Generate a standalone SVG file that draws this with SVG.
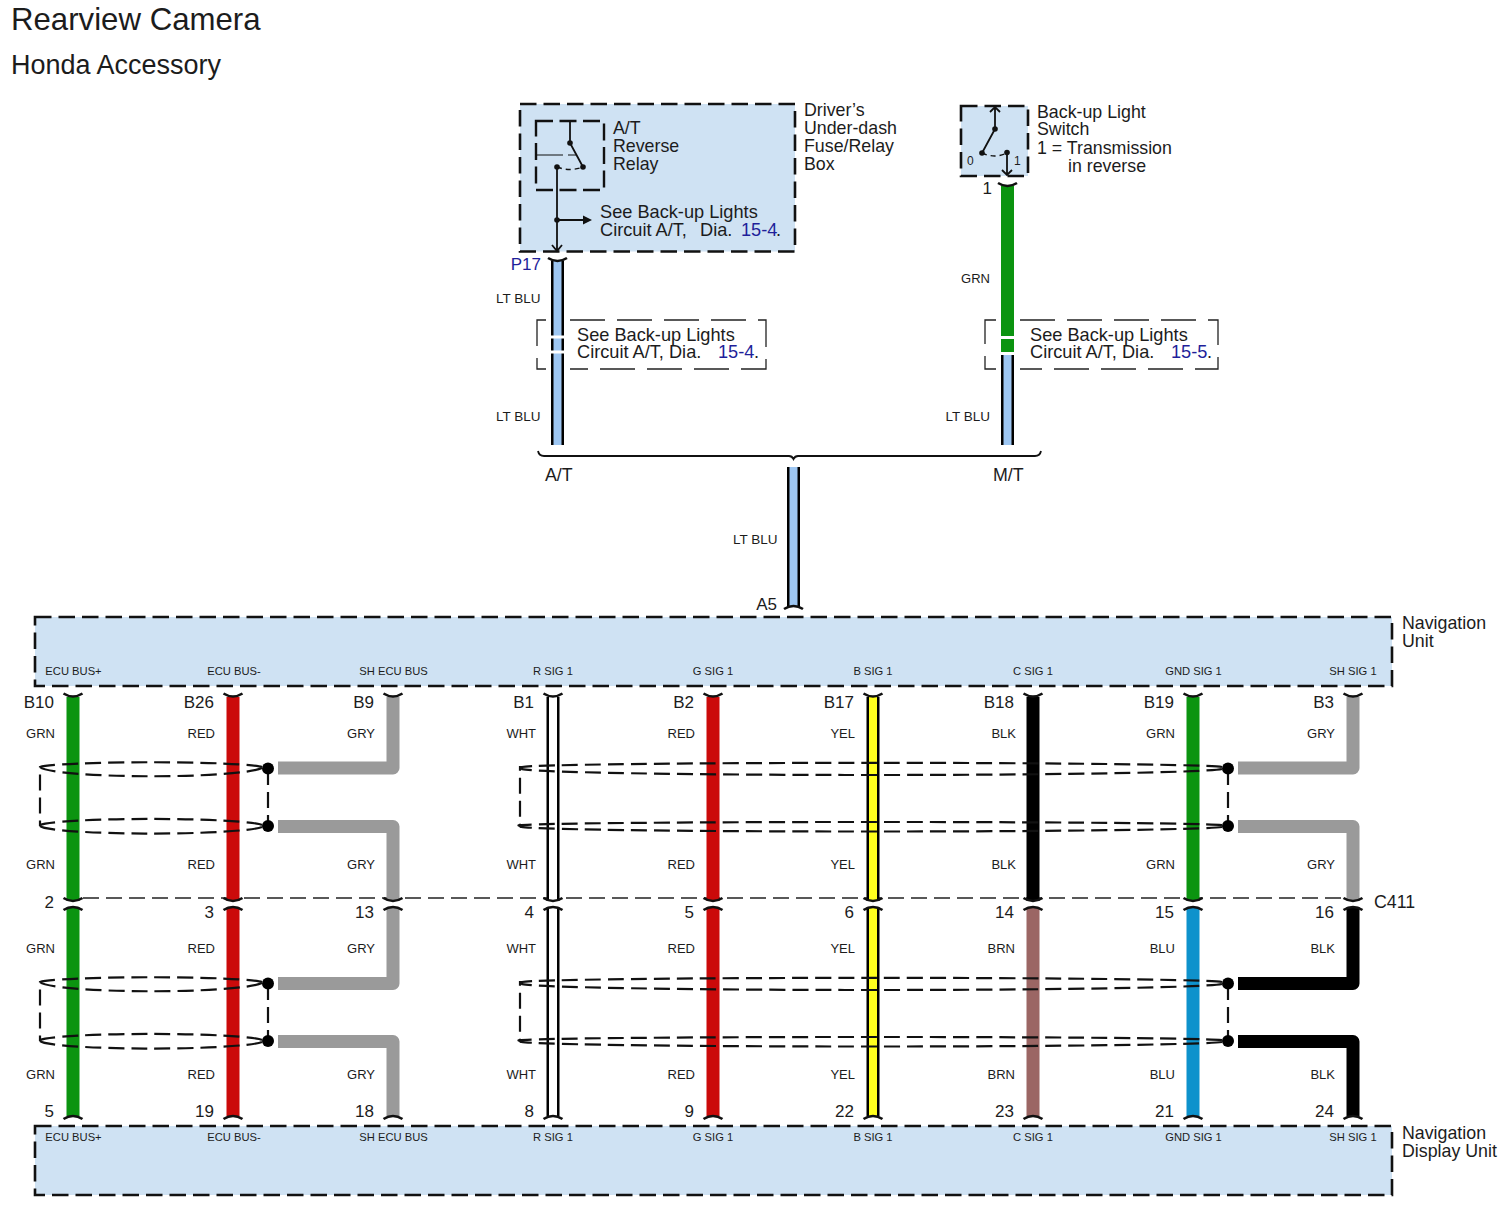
<svg xmlns="http://www.w3.org/2000/svg" width="1510" height="1207" viewBox="0 0 1510 1207">
<style>
text{font-family:"Liberation Sans",Arial,sans-serif;fill:#1c1c1c}
.t{font-size:17.8px}
.s{font-size:18.2px}
.p{font-size:17px;text-anchor:end}
.w{font-size:13px;text-anchor:end}
.lb{font-size:13.500px;text-anchor:end}
.n{font-size:11.200px;text-anchor:middle}
.l{fill:#1f1f9a}
.box{fill:#cfe2f3;stroke:#111;stroke-width:2.600;stroke-dasharray:16.500 7}
.thin{fill:none;stroke:#222;stroke-width:1.300;stroke-dasharray:35 12}
.ln{fill:none;stroke:#111;stroke-width:1.800}
.dsh{fill:none;stroke:#111;stroke-width:1.400;stroke-dasharray:5 4}
.tick{fill:none;stroke:#111;stroke-width:2.600}
.wire{fill:none;stroke-width:13;stroke-linejoin:round}
.grn{stroke:#0b9410}.red{stroke:#cb0a0a}.gry{stroke:#9a9a9a}.yel{stroke:#ffff1e}.blk{stroke:#000}.brn{stroke:#9b6664}.blu{stroke:#0e92cc}.wht{stroke:#fff}.lbl{stroke:#9dc6f2}
.in{fill:none;stroke-width:8}
.shield{fill:none;stroke:#111;stroke-width:2.200;stroke-dasharray:16 7}
</style>
<defs>
<path id="tt" class="tick" d="M-9.500 0Q0 6 9.500 0"/>
<path id="tb" class="tick" d="M-9.500 0Q0 -6 9.500 0"/>
<g id="sl">
<path class="shield" d="M262 767A112 5.500 0 0 0 40 767V826"/>
<path class="shield" d="M262 768A112 10 0 0 1 40 767"/>
<path class="shield" d="M262 825A112 7 0 0 0 40 825"/>
<path class="shield" d="M262 827A112 8 0 0 1 40 826"/>
<path class="shield" d="M268 769V826"/>
<circle cx="268" cy="768.500" r="6" fill="#000"/><circle cx="268" cy="826" r="6" fill="#000"/>
</g>
<g id="sr">
<path class="shield" d="M1222 767A351 4.500 0 0 0 522 767H520V826"/>
<path class="shield" d="M1222 769A351 6.500 0 0 1 522 768"/>
<path class="shield" d="M1222 825A351 3.500 0 0 0 522 826"/>
<path class="shield" d="M1222 827A351 5 0 0 1 522 826"/>
<path class="shield" d="M1228 769V826"/>
<circle cx="1228" cy="768.500" r="6" fill="#000"/><circle cx="1228" cy="826" r="6" fill="#000"/>
</g>
</defs>
<rect width="1510" height="1207" fill="#fff"/>
<text x="11" y="30" font-size="31.200">Rearview Camera</text>
<text x="11" y="74" font-size="27">Honda Accessory</text>

<g id="fuse-box">
<rect class="box" x="520" y="104" width="275" height="147.500"/>
<text class="t" x="804" y="116">Driver’s</text>
<text class="t" x="804" y="134">Under-dash</text>
<text class="t" x="804" y="152">Fuse/Relay</text>
<text class="t" x="804" y="170">Box</text>
<text class="s" x="600" y="218">See Back-up Lights</text>
<text class="s" x="600" y="236">Circuit A/T,</text><text class="s" x="700" y="236">Dia.</text>
<text class="s l" x="741" y="236">15-4</text><text class="s" x="776" y="236">.</text>
<path class="ln" d="M557 167V251M552 245L557 251L562 245M557 220H585"/>
<path d="M583 215.500L592 220L583 224.500Z" fill="#111"/>
<circle cx="557" cy="220" r="2.800" fill="#111"/>
</g>
<g id="relay">
<rect x="536" y="121" width="68" height="69" fill="none" stroke="#111" stroke-width="2.400" stroke-dasharray="17 6.500"/>
<text class="t" x="613" y="134">A/T</text>
<text class="t" x="613" y="152">Reverse</text>
<text class="t" x="613" y="170">Relay</text>
<path class="ln" d="M570 121V143L583 167"/>
<path d="M536 155H563M568 155H577" fill="none" stroke="#111" stroke-width="1.200"/>
<path class="dsh" d="M557 167Q570 172 583 167"/>
<circle cx="570" cy="143" r="2.800" fill="#111"/><circle cx="583" cy="167" r="2.800" fill="#111"/><circle cx="557" cy="167" r="2.800" fill="#111"/>
</g>
<g id="backup-switch">
<rect class="box" x="961" y="106" width="67" height="70"/>
<path class="ln" d="M995 107V129L982 153M990 112L995 107L1000 112M1007 153V175M1002 170L1007 175L1012 170"/>
<path class="dsh" d="M982 153Q995 159 1007 153"/>
<circle cx="995" cy="129" r="2.800" fill="#111"/><circle cx="982" cy="153" r="2.800" fill="#111"/><circle cx="1007" cy="152.500" r="2.800" fill="#111"/>
<text x="967" y="165" font-size="12">0</text><text x="1014" y="165" font-size="12">1</text>
<text class="t" x="1037" y="118">Back-up Light</text>
<text class="t" x="1037" y="135">Switch</text>
<text class="t" x="1037" y="154">1 = Transmission</text>
<text class="t" x="1068" y="172">in reverse</text>
</g>

<g id="connectors">
<path class="wire blk" d="M557.500 261V445"/><path class="in lbl" d="M557.500 261V445"/>
<path class="wire grn" d="M1007.500 186V336"/><path class="wire grn" d="M1007.500 339V352"/>
<path class="wire blk" d="M1007.500 355V445"/><path class="in lbl" d="M1007.500 355V445"/>
<path d="M550 337H565M550 352H565" stroke="#fff" stroke-width="3"/>
<path class="wire blk" d="M793.500 467V607"/><path class="in lbl" d="M793.500 467V607"/>
<path class="ln" d="M538 451Q539 456 544 456H789Q792 456 793.500 459Q795 456 798 456H1035Q1040 456 1041 451"/>
<use href="#tt" x="557.500" y="258"/><use href="#tt" x="1007.500" y="183"/><use href="#tb" x="793.500" y="609"/>

<path d="M83 898H1345" fill="none" stroke="#222" stroke-width="1.500" stroke-dasharray="16 7"/>

<path class="wire grn" d="M73 697V901"/>
<path class="wire red" d="M233 697V901"/>
<path class="wire gry" d="M393 697V768H278"/><path class="wire gry" d="M278 826.500H393V901"/>
<path class="wire blk" d="M553 697V901"/><path class="in wht" d="M553 697V901"/>
<path class="wire red" d="M713 697V901"/>
<path class="wire blk" d="M873 697V901"/><path class="in yel" d="M873 697V901"/>
<path class="wire blk" d="M1033 697V901"/>
<path class="wire grn" d="M1193 697V901"/>
<path class="wire gry" d="M1353 697V768H1238"/><path class="wire gry" d="M1238 826.500H1353V901"/>

<path class="wire grn" d="M73 907V1116"/>
<path class="wire red" d="M233 907V1116"/>
<path class="wire gry" d="M393 907V983.500H278"/><path class="wire gry" d="M278 1041.500H393V1116"/>
<path class="wire blk" d="M553 907V1116"/><path class="in wht" d="M553 907V1116"/>
<path class="wire red" d="M713 907V1116"/>
<path class="wire blk" d="M873 907V1116"/><path class="in yel" d="M873 907V1116"/>
<path class="wire brn" d="M1033 907V1116"/>
<path class="wire blu" d="M1193 907V1116"/>
<path class="wire blk" d="M1353 907V983.500H1238"/><path class="wire blk" d="M1238 1041.500H1353V1116"/>

<use href="#sl"/><use href="#sr"/><use href="#sl" y="215"/><use href="#sr" y="215"/>

<use href="#tt" x="73" y="693.500"/><use href="#tt" x="233" y="693.500"/><use href="#tt" x="393" y="693.500"/><use href="#tt" x="553" y="693.500"/><use href="#tt" x="713" y="693.500"/><use href="#tt" x="873" y="693.500"/><use href="#tt" x="1033" y="693.500"/><use href="#tt" x="1193" y="693.500"/><use href="#tt" x="1353" y="693.500"/>
<use href="#tt" x="73" y="898"/><use href="#tt" x="233" y="898"/><use href="#tt" x="393" y="898"/><use href="#tt" x="553" y="898"/><use href="#tt" x="713" y="898"/><use href="#tt" x="873" y="898"/><use href="#tt" x="1033" y="898"/><use href="#tt" x="1193" y="898"/><use href="#tt" x="1353" y="898"/>
<use href="#tb" x="73" y="910"/><use href="#tb" x="233" y="910"/><use href="#tb" x="393" y="910"/><use href="#tb" x="553" y="910"/><use href="#tb" x="713" y="910"/><use href="#tb" x="873" y="910"/><use href="#tb" x="1033" y="910"/><use href="#tb" x="1193" y="910"/><use href="#tb" x="1353" y="910"/>
<use href="#tb" x="73" y="1119"/><use href="#tb" x="233" y="1119"/><use href="#tb" x="393" y="1119"/><use href="#tb" x="553" y="1119"/><use href="#tb" x="713" y="1119"/><use href="#tb" x="873" y="1119"/><use href="#tb" x="1033" y="1119"/><use href="#tb" x="1193" y="1119"/><use href="#tb" x="1353" y="1119"/>

<text class="lb" x="540.500" y="303">LT BLU</text><text class="lb" x="540.500" y="421">LT BLU</text>
<text class="w" x="990" y="283">GRN</text><text class="lb" x="990" y="421">LT BLU</text>
<text class="lb" x="777.500" y="544">LT BLU</text>
<text class="w" x="55" y="738">GRN</text><text class="w" x="215" y="738">RED</text><text class="w" x="375" y="738">GRY</text><text class="w" x="536" y="738">WHT</text><text class="w" x="695" y="738">RED</text><text class="w" x="855" y="738">YEL</text><text class="w" x="1016" y="738">BLK</text><text class="w" x="1175" y="738">GRN</text><text class="w" x="1335" y="738">GRY</text>
<text class="w" x="55" y="869">GRN</text><text class="w" x="215" y="869">RED</text><text class="w" x="375" y="869">GRY</text><text class="w" x="536" y="869">WHT</text><text class="w" x="695" y="869">RED</text><text class="w" x="855" y="869">YEL</text><text class="w" x="1016" y="869">BLK</text><text class="w" x="1175" y="869">GRN</text><text class="w" x="1335" y="869">GRY</text>
<text class="w" x="55" y="953">GRN</text><text class="w" x="215" y="953">RED</text><text class="w" x="375" y="953">GRY</text><text class="w" x="536" y="953">WHT</text><text class="w" x="695" y="953">RED</text><text class="w" x="855" y="953">YEL</text><text class="w" x="1015" y="953">BRN</text><text class="w" x="1175" y="953">BLU</text><text class="w" x="1335" y="953">BLK</text>
<text class="w" x="55" y="1079">GRN</text><text class="w" x="215" y="1079">RED</text><text class="w" x="375" y="1079">GRY</text><text class="w" x="536" y="1079">WHT</text><text class="w" x="695" y="1079">RED</text><text class="w" x="855" y="1079">YEL</text><text class="w" x="1015" y="1079">BRN</text><text class="w" x="1175" y="1079">BLU</text><text class="w" x="1335" y="1079">BLK</text>

<text class="p l" x="541" y="270">P17</text><text class="p" x="992" y="194">1</text><text class="p" x="777" y="610">A5</text>
<text class="p" x="54" y="708">B10</text><text class="p" x="214" y="708">B26</text><text class="p" x="374" y="708">B9</text><text class="p" x="534" y="708">B1</text><text class="p" x="694" y="708">B2</text><text class="p" x="854" y="708">B17</text><text class="p" x="1014" y="708">B18</text><text class="p" x="1174" y="708">B19</text><text class="p" x="1334" y="708">B3</text>
<text class="p" x="54" y="908">2</text><text class="p" x="214" y="918">3</text><text class="p" x="374" y="918">13</text><text class="p" x="534" y="918">4</text><text class="p" x="694" y="918">5</text><text class="p" x="854" y="918">6</text><text class="p" x="1014" y="918">14</text><text class="p" x="1174" y="918">15</text><text class="p" x="1334" y="918">16</text>
<text class="p" x="54" y="1117">5</text><text class="p" x="214" y="1117">19</text><text class="p" x="374" y="1117">18</text><text class="p" x="534" y="1117">8</text><text class="p" x="694" y="1117">9</text><text class="p" x="854" y="1117">22</text><text class="p" x="1014" y="1117">23</text><text class="p" x="1174" y="1117">21</text><text class="p" x="1334" y="1117">24</text>
<text class="t" x="545" y="481">A/T</text><text class="t" x="993" y="481">M/T</text>
</g>

<g id="note-at">
<path class="thin" d="M546 320H537V369H546"/>
<path class="thin" d="M570 320H766V369H570"/>
<text class="s" x="577" y="341">See Back-up Lights</text>
<text class="s" x="577" y="358">Circuit A/T, Dia.</text>
<text class="s l" x="718" y="358">15-4</text><text class="s" x="754" y="358">.</text>
</g>
<g id="note-mt">
<path class="thin" d="M996 320H985V369H996"/>
<path class="thin" d="M1020 320H1218V369H1020"/>
<text class="s" x="1030" y="341">See Back-up Lights</text>
<text class="s" x="1030" y="358">Circuit A/T, Dia.</text>
<text class="s l" x="1171" y="358">15-5</text><text class="s" x="1207" y="358">.</text>
</g>

<g id="navigation-unit">
<rect class="box" x="35" y="617" width="1357" height="69"/>
<text class="t" x="1402" y="629">Navigation</text><text class="t" x="1402" y="647">Unit</text>
<text class="n" x="73.500" y="675">ECU BUS+</text><text class="n" x="234" y="675">ECU BUS-</text><text class="n" x="393.500" y="675">SH ECU BUS</text><text class="n" x="553" y="675">R SIG 1</text><text class="n" x="713" y="675">G SIG 1</text><text class="n" x="873" y="675">B SIG 1</text><text class="n" x="1033" y="675">C SIG 1</text><text class="n" x="1193.500" y="675">GND SIG 1</text><text class="n" x="1353" y="675">SH SIG 1</text>
</g>
<g id="navigation-display-unit">
<rect class="box" x="35" y="1126" width="1357" height="69"/>
<text class="t" x="1402" y="1139">Navigation</text><text class="t" x="1402" y="1157">Display Unit</text>
<text class="n" x="73.500" y="1141">ECU BUS+</text><text class="n" x="234" y="1141">ECU BUS-</text><text class="n" x="393.500" y="1141">SH ECU BUS</text><text class="n" x="553" y="1141">R SIG 1</text><text class="n" x="713" y="1141">G SIG 1</text><text class="n" x="873" y="1141">B SIG 1</text><text class="n" x="1033" y="1141">C SIG 1</text><text class="n" x="1193.500" y="1141">GND SIG 1</text><text class="n" x="1353" y="1141">SH SIG 1</text>
</g>
<g id="c411"><text class="t" x="1374" y="908">C411</text></g>
</svg>
